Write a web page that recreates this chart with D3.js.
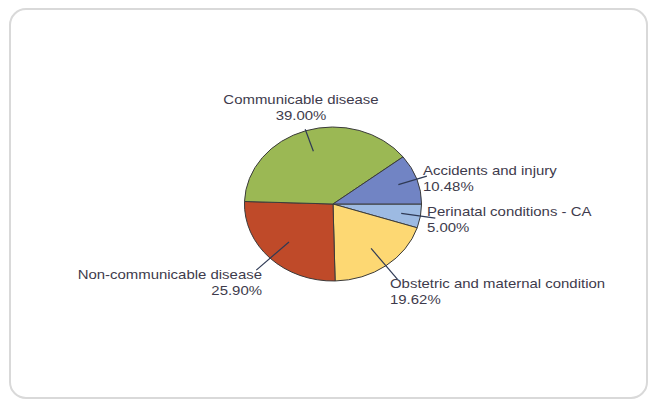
<!DOCTYPE html>
<html>
<head>
<meta charset="utf-8">
<script src="https://cdn.jsdelivr.net/npm/d3@7"></script>
<style>
  html, body { margin: 0; padding: 0; background: #ffffff; }
  svg { display: block; }
</style>
</head>
<body>
<svg id="chart" width="649" height="400"></svg>
<script>
// ---- data ----
const categories = ["Perinatal conditions - CA", "Obstetric and maternal condition", "Non-communicable disease", "Communicable disease", "Accidents and injury"];
const values = [5.00, 19.62, 25.90, 39.00, 10.48];
const colors = ["#9DBAE2", "#FDD873", "#BF4A29", "#9BB854", "#7184C4"];

const svg = d3.select("#chart");
const W = 649, H = 400;

// frame
svg.append("rect")
  .attr("x", 10).attr("y", 9)
  .attr("width", 637).attr("height", 389)
  .attr("rx", 16).attr("ry", 16)
  .attr("fill", "#ffffff")
  .attr("stroke", "#d9d9d9")
  .attr("stroke-width", 2);

// image is horizontally stretched
const sx = 1.15;
const cx = 333, cy = 204, r = 77;

const pie = d3.pie().sort(null).value(d => d)
  .startAngle(Math.PI / 2).endAngle(Math.PI / 2 + 2 * Math.PI);
const arcs = pie(values);
const arc = d3.arc().innerRadius(0).outerRadius(r);

const g = svg.append("g").attr("transform", `translate(${cx},${cy}) scale(${sx},1)`);
g.selectAll("path.slice")
  .data(arcs)
  .enter().append("path")
  .attr("class", "slice")
  .attr("d", arc)
  .attr("fill", (d, i) => colors[i])
  .attr("stroke", "#3b3b3b")
  .attr("stroke-width", 1)
  .attr("vector-effect", "non-scaling-stroke");

// label placement (leader line inner radius fraction, outer point, text anchor point)
const labelCfg = [
  { inner: 0.78, outer: 1.17, tx: 427, ty: 216, anchor: "start" },
  { inner: 0.72, outer: 1.22, tx: 390, ty: 288, anchor: "start" },
  { inner: 0.70, outer: 1.22, tx: 262, ty: 279, anchor: "end" },
  { inner: 0.72, outer: 1.02, tx: 301, ty: 104, anchor: "middle" },
  { inner: 0.78, outer: 1.12, tx: 423, ty: 175, anchor: "start" }
];

const textColor = "#3e3b4c";
const lineGen = d3.line();

arcs.forEach((d, i) => {
  const cfg = labelCfg[i];
  const a = (d.startAngle + d.endAngle) / 2;
  const ux = Math.sin(a), uy = -Math.cos(a);
  const p1 = [cx + ux * r * cfg.inner * sx, cy + uy * r * cfg.inner];
  const p2 = [cx + ux * r * cfg.outer * sx, cy + uy * r * cfg.outer];
  svg.append("path")
    .attr("d", lineGen([p1, p2]))
    .attr("stroke", "#2f3a55")
    .attr("stroke-width", 1.2)
    .attr("fill", "none");

  const t = svg.append("text")
    .attr("transform", `translate(${cfg.tx},${cfg.ty}) scale(${sx},1)`)
    .attr("text-anchor", cfg.anchor)
    .attr("font-family", "Liberation Sans, Arial, sans-serif")
    .attr("font-size", 13)
    .attr("fill", textColor);
  t.append("tspan").attr("x", 0).attr("y", 0).text(categories[i]);
  t.append("tspan").attr("x", 0).attr("y", 16).text(values[i].toFixed(2) + "%");
});
</script>
</body>
</html>
